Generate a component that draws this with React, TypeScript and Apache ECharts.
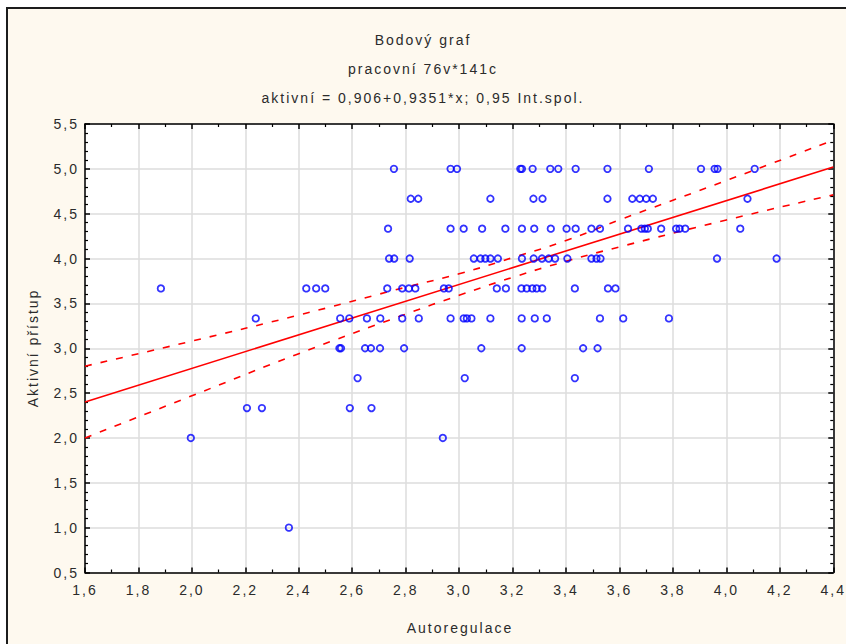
import React, { useEffect, useRef } from "react";
import * as echarts from "echarts";

// ---- texts ----
const titleLines = ["Bodový graf", "pracovní 76v*141c", "aktivní = 0,906+0,9351*x; 0,95 Int.spol."];
const xAxisTitle = "Autoregulace";
const yAxisTitle = "Aktivní přístup";

// ---- axes ----
const xMin = 1.6;
const xMax = 4.4;
const xStep = 0.2;
const yMin = 0.5;
const yMax = 5.5;
const yStep = 0.5;

// ---- scatter data: x values read for each y level ----
const yLevels = [5.0, 4.667, 4.333, 4.0, 3.667, 3.333, 3.0, 2.667, 2.333, 2.0, 1.0];
const xAt5_000 = [2.756, 2.968, 2.992, 3.229, 3.235, 3.275, 3.341, 3.371, 3.436, 3.555, 3.71, 3.905, 3.956, 3.967, 4.106];
const xAt4_667 = [2.819, 2.847, 3.117, 3.278, 3.312, 3.555, 3.648, 3.676, 3.7, 3.725, 4.079];
const xAt4_333 = [2.734, 2.968, 3.017, 3.086, 3.173, 3.235, 3.281, 3.343, 3.402, 3.436, 3.495, 3.527, 3.632, 3.682, 3.695, 3.706, 3.756, 3.812, 3.825, 3.846, 4.052];
const xAt4_000 = [2.738, 2.757, 2.815, 3.055, 3.08, 3.098, 3.117, 3.145, 3.235, 3.279, 3.31, 3.335, 3.359, 3.405, 3.495, 3.514, 3.529, 3.965, 4.188];
const xAt3_667 = [1.884, 2.428, 2.465, 2.499, 2.731, 2.787, 2.812, 2.836, 2.943, 2.961, 3.141, 3.175, 3.233, 3.253, 3.274, 3.29, 3.311, 3.433, 3.557, 3.585];
const xAt3_333 = [2.239, 2.555, 2.589, 2.655, 2.705, 2.787, 2.849, 2.968, 3.017, 3.029, 3.046, 3.117, 3.234, 3.283, 3.328, 3.527, 3.614, 3.785];
const xAt3_000 = [2.552, 2.558, 2.648, 2.67, 2.704, 2.794, 3.083, 3.234, 3.464, 3.518];
const xAt2_667 = [2.62, 3.021, 3.433];
const xAt2_333 = [2.206, 2.262, 2.591, 2.672];
const xAt2_000 = [1.996, 2.939];
const xAt1_000 = [2.363];
const xByLevel = [xAt5_000, xAt4_667, xAt4_333, xAt4_000, xAt3_667, xAt3_333, xAt3_000, xAt2_667, xAt2_333, xAt2_000, xAt1_000];

// ---- regression line (aktivní = 0,906 + 0,9351*x) end points ----
const regressionX = [1.6, 4.4];
const regressionY = [2.402, 5.02];

// ---- 0,95 confidence band ----
const bandX = [1.6, 2.0, 2.4, 2.8, 3.0, 3.2, 3.4, 3.6, 4.0, 4.4];
const bandUpper = [2.8, 3.08, 3.37, 3.68, 3.83, 4.01, 4.2, 4.43, 4.87, 5.32];
const bandLower = [2.0, 2.47, 2.94, 3.38, 3.59, 3.79, 3.97, 4.13, 4.43, 4.71];

const FONT = "'Liberation Sans', Arial, sans-serif";
const TEXT_COLOR = "#2b2b2b";
const BG = "#FEF9EF";

const fmt = (v: number) => v.toFixed(1).replace(".", ",");

export default function App() {
  const ref = useRef<HTMLDivElement>(null);

  useEffect(() => {
    if (!ref.current) return;
    const chart = echarts.init(ref.current, undefined, { renderer: "svg" });

    const points: number[][] = [];
    yLevels.forEach((y, i) => {
      xByLevel[i].forEach((x) => points.push([x, y]));
    });

    const axisLine = { show: true, onZero: false, lineStyle: { color: "#000", width: 1.5 } };
    const axisTick = { show: true, inside: true, length: 5, lineStyle: { color: "#000", width: 1.5 } };
    const minorLine = { color: "#000", width: 1.2 };

    const option: any = {
      animation: false,
      backgroundColor: BG,
      textStyle: { fontFamily: FONT },
      grid: {
        left: 85,
        right: 10,
        top: 124,
        bottom: 71.5,
        show: true,
        backgroundColor: "#fff",
        borderWidth: 0,
      },
      xAxis: [
        {
          type: "value",
          min: xMin,
          max: xMax,
          interval: xStep,
          position: "bottom",
          axisLine,
          axisTick,
          minorTick: { show: true, splitNumber: 2, length: 3, lineStyle: minorLine },
          splitLine: { show: true, lineStyle: { color: "#DCDCDC", width: 1.5 } },
          axisLabel: {
            formatter: fmt,
            color: TEXT_COLOR,
            fontSize: 14,
            fontFamily: FONT,
            margin: 10,
            showMinLabel: true,
            showMaxLabel: true,
          },
        },
        {
          type: "value",
          min: xMin,
          max: xMax,
          interval: xStep,
          position: "top",
          axisLine,
          axisTick,
          minorTick: { show: true, splitNumber: 2, length: 3, lineStyle: minorLine },
          splitLine: { show: false },
          axisLabel: { show: false },
        },
      ],
      yAxis: [
        {
          type: "value",
          min: yMin,
          max: yMax,
          interval: yStep,
          position: "left",
          axisLine,
          axisTick,
          minorTick: { show: true, splitNumber: 5, length: 3, lineStyle: minorLine },
          splitLine: { show: true, lineStyle: { color: "#DCDCDC", width: 1.5 } },
          axisLabel: {
            formatter: fmt,
            color: TEXT_COLOR,
            fontSize: 14,
            fontFamily: FONT,
            margin: 6,
            showMinLabel: true,
            showMaxLabel: true,
          },
        },
        {
          type: "value",
          min: yMin,
          max: yMax,
          interval: yStep,
          position: "right",
          axisLine,
          axisTick,
          minorTick: { show: true, splitNumber: 5, length: 3, lineStyle: minorLine },
          splitLine: { show: false },
          axisLabel: { show: false },
        },
      ],
      graphic: [
        { type: "rect", silent: true, shape: { x: 0, y: 0, width: 846, height: 7 }, style: { fill: "#fff" } },
        { type: "rect", silent: true, shape: { x: 0, y: 0, width: 6, height: 644 }, style: { fill: "#fff" } },
        { type: "line", silent: true, shape: { x1: 6, y1: 8, x2: 846, y2: 8 }, style: { stroke: "#1c1c1c", lineWidth: 2 } },
        { type: "line", silent: true, shape: { x1: 7, y1: 7, x2: 7, y2: 644 }, style: { stroke: "#1c1c1c", lineWidth: 2 } },
        ...titleLines.map((t, i) => ({
          type: "text",
          silent: true,
          x: 423,
          y: 40 + i * 29,
          style: {
            text: t,
            fill: TEXT_COLOR,
            font: `14px ${FONT}`,
            textAlign: "center",
            textVerticalAlign: "middle",
          },
        })),
        {
          type: "text",
          silent: true,
          x: 460,
          y: 628,
          style: {
            text: xAxisTitle,
            fill: TEXT_COLOR,
            font: `14px ${FONT}`,
            textAlign: "center",
            textVerticalAlign: "middle",
          },
        },
        {
          type: "text",
          silent: true,
          x: 33,
          y: 348,
          rotation: Math.PI / 2,
          style: {
            text: yAxisTitle,
            fill: TEXT_COLOR,
            font: `14px ${FONT}`,
            textAlign: "center",
            textVerticalAlign: "middle",
          },
        },
      ],
      series: [
        {
          type: "line",
          name: "upper",
          data: bandX.map((x, i) => [x, bandUpper[i]]),
          smooth: true,
          showSymbol: false,
          silent: true,
          lineStyle: { color: "#FF0000", width: 1.6, type: [7, 9] },
          z: 3,
        },
        {
          type: "line",
          name: "lower",
          data: bandX.map((x, i) => [x, bandLower[i]]),
          smooth: true,
          showSymbol: false,
          silent: true,
          lineStyle: { color: "#FF0000", width: 1.6, type: [7, 9] },
          z: 3,
        },
        {
          type: "line",
          name: "regression",
          data: regressionX.map((x, i) => [x, regressionY[i]]),
          showSymbol: false,
          silent: true,
          lineStyle: { color: "#FF0000", width: 1.6 },
          z: 3,
        },
        {
          type: "scatter",
          name: "points",
          data: points,
          symbol: "circle",
          symbolSize: 6.5,
          itemStyle: { color: "rgba(255,255,255,0)", borderColor: "#0000FF", borderWidth: 1.8 },
          z: 5,
        },
      ],
    };

    chart.setOption(option);
    return () => chart.dispose();
  }, []);

  return (
    <>
      <style>{`#chart-root text { letter-spacing: 2px; }`}</style>
      <div
        id="chart-root"
        ref={ref}
        style={{ position: "fixed", left: 0, top: 0, width: 846, height: 644 }}
      />
    </>
  );
}
